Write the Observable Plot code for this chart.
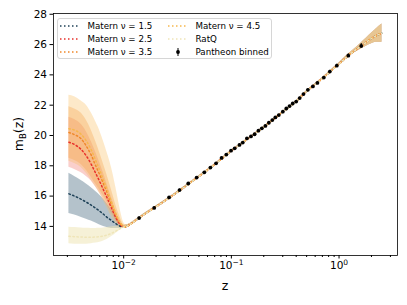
<!DOCTYPE html>
<html><head><meta charset="utf-8">
<script src="https://cdn.jsdelivr.net/npm/d3@7"></script>
<script src="https://cdn.jsdelivr.net/npm/@observablehq/plot@0.6"></script>
<style>
body{margin:0;background:#fff;}
#wrap{position:relative;width:407px;height:305px;font-family:"DejaVu Sans",sans-serif;}
#legend{position:absolute;left:57px;top:18px;width:215px;height:41px;border:1px solid #d6d6d6;border-radius:3px;background:rgba(255,255,255,0.8);box-sizing:border-box;}
</style></head><body><div id="wrap"></div>
<script>
// ---- data ----
const zLow = [0.0031, 0.0035, 0.004, 0.0045, 0.005, 0.0055, 0.006, 0.0065, 0.007, 0.0075, 0.008, 0.0085, 0.009, 0.0095, 0.010];

const m15  = [16.15, 16.0, 15.8, 15.6, 15.4, 15.2, 15.0, 14.8, 14.6, 14.45, 14.3, 14.17, 14.06, 13.98, 13.95];
const lo15 = [14.85, 14.75, 14.6, 14.48, 14.35, 14.22, 14.1, 14.0, 13.93, 13.88, 13.86, 13.86, 13.87, 13.88, 13.9];
const hi15 = [17.5, 17.3, 17.05, 16.8, 16.55, 16.3, 16.05, 15.8, 15.5, 15.2, 14.9, 14.6, 14.35, 14.12, 14.0];

const m25  = [19.55, 19.4, 19.1, 18.65, 18.1, 17.5, 16.95, 16.4, 15.9, 15.4, 14.95, 14.55, 14.25, 14.05, 13.97];
const lo25 = [17.9, 17.75, 17.55, 17.3, 17.0, 16.6, 16.2, 15.8, 15.45, 15.05, 14.7, 14.35, 14.1, 13.95, 13.9];
const hi25 = [21.2, 21.05, 20.75, 20.25, 19.6, 18.9, 18.2, 17.5, 16.8, 16.15, 15.55, 15.0, 14.55, 14.22, 14.05];

const m35  = [20.2, 20.05, 19.8, 19.3, 18.7, 18.0, 17.4, 16.8, 16.25, 15.65, 15.15, 14.7, 14.35, 14.12, 14.0];
const lo35 = [18.5, 18.35, 18.1, 17.7, 17.25, 16.8, 16.4, 16.0, 15.6, 15.2, 14.85, 14.5, 14.2, 14.0, 13.92];
const hi35 = [21.9, 21.75, 21.5, 21.0, 20.35, 19.6, 18.85, 18.1, 17.4, 16.7, 16.0, 15.35, 14.85, 14.4, 14.12];

const m45  = [20.45, 20.35, 20.1, 19.65, 19.05, 18.35, 17.7, 17.05, 16.45, 15.85, 15.3, 14.8, 14.42, 14.15, 14.0];
const lo45 = [18.3, 18.15, 17.9, 17.5, 17.05, 16.6, 16.15, 15.7, 15.25, 14.8, 14.45, 14.15, 13.95, 13.88, 13.88];
const hi45 = [22.65, 22.55, 22.3, 22.0, 21.5, 20.9, 20.3, 19.6, 18.9, 18.2, 17.4, 16.5, 15.6, 14.8, 14.25];

const mRQ  = [13.35, 13.32, 13.3, 13.29, 13.29, 13.3, 13.33, 13.37, 13.43, 13.5, 13.6, 13.7, 13.8, 13.9, 13.95];
const loRQ = [12.85, 12.83, 12.82, 12.83, 12.86, 12.9, 12.96, 13.04, 13.14, 13.26, 13.4, 13.55, 13.68, 13.82, 13.9];
const hiRQ = [13.95, 13.92, 13.9, 13.88, 13.87, 13.87, 13.88, 13.9, 13.93, 13.96, 14.0, 14.0, 14.0, 14.0, 14.0];

// shared reconstruction above z ~ 0.01
const zHigh  = [0.0105, 0.011, 0.012, 0.013, 0.015, 0.02, 0.03, 0.05, 0.07, 0.1, 0.15, 0.2, 0.3, 0.4, 0.5, 0.6, 0.7, 0.8, 0.9, 1.0, 1.2, 1.4, 1.6, 1.8, 2.0, 2.2, 2.5];
const mHigh  = [13.98, 14.05, 14.22, 14.40, 14.72, 15.30, 16.15, 17.30, 18.08, 18.98, 19.90, 20.56, 21.55, 22.25, 22.92, 23.38, 23.76, 24.12, 24.45, 24.72, 25.23, 25.60, 25.90, 26.17, 26.40, 26.58, 26.75];
const hwHigh = [0.12, 0.08, 0.06, 0.05, 0.05, 0.05, 0.04, 0.04, 0.04, 0.04, 0.04, 0.04, 0.04, 0.04, 0.04, 0.04, 0.05, 0.05, 0.05, 0.06, 0.09, 0.13, 0.19, 0.26, 0.34, 0.43, 0.6];

// Pantheon binned
const zBin = [0.0139, 0.0192, 0.0264, 0.0330, 0.0398, 0.0476, 0.0561, 0.0639, 0.0721, 0.0811, 0.0898, 0.0993, 0.1074, 0.1189, 0.1276, 0.1395, 0.1520, 0.1644, 0.1783, 0.1919, 0.2070, 0.2230, 0.2401, 0.2561, 0.2758, 0.3006, 0.3237, 0.3470, 0.3714, 0.4000, 0.4310, 0.4675, 0.5135, 0.5715, 0.6299, 0.7220, 0.8209, 0.9528, 1.219, 1.607];
const mBin = [14.55, 15.22, 15.91, 16.40, 16.83, 17.22, 17.57, 17.88, 18.16, 18.52, 18.74, 19.00, 19.15, 19.38, 19.53, 19.81, 19.94, 20.08, 20.32, 20.47, 20.63, 20.84, 21.02, 21.19, 21.35, 21.57, 21.78, 21.94, 22.11, 22.24, 22.47, 22.73, 23.01, 23.24, 23.47, 23.82, 24.22, 24.61, 25.27, 25.91];
const eBin = [0.08, 0.07, 0.06, 0.06, 0.05, 0.05, 0.05, 0.05, 0.05, 0.05, 0.05, 0.04, 0.04, 0.04, 0.04, 0.04, 0.04, 0.04, 0.04, 0.04, 0.04, 0.04, 0.04, 0.04, 0.04, 0.04, 0.04, 0.04, 0.05, 0.05, 0.05, 0.05, 0.06, 0.06, 0.06, 0.07, 0.08, 0.09, 0.12, 0.16];

const xMajor = [0.01, 0.1, 1];
const xMajorBase = ["10", "10", "10"];
const xMajorExp = ["−2", "−1", "0"];
const xMinor = [0.003, 0.004, 0.005, 0.006, 0.007, 0.008, 0.009, 0.02, 0.03, 0.04, 0.05, 0.06, 0.07, 0.08, 0.09, 0.2, 0.3, 0.4, 0.5, 0.6, 0.7, 0.8, 0.9, 2, 3];
const yTicks = [14, 16, 18, 20, 22, 24, 26, 28];

const kernelNames = ["Matern ν = 1.5", "Matern ν = 2.5", "Matern ν = 3.5", "Matern ν = 4.5", "RatQ"];
const lineColors = ["#1f4258", "#e8312b", "#f0882a", "#f6b84e", "#efe5b8"];
const fillColors = ["#3b5f77", "#ee5f55", "#f3963c", "#f9bb5c", "#eee3b0"];
const fillOpac = [0.38, 0.3, 0.33, 0.33, 0.5];
const means = [m15, m25, m35, m45, mRQ];
const lows = [lo15, lo25, lo35, lo45, loRQ];
const highs = [hi15, hi25, hi35, hi45, hiRQ];

// ---- build tables ----
const kernels = kernelNames.map((name, k) =>
  zLow.map((z, i) => ({z, m: means[k][i], lo: lows[k][i], hi: highs[k][i]}))
    .concat(zHigh.map((z, i) => ({z, m: mHigh[i], lo: mHigh[i] - hwHigh[i], hi: mHigh[i] + hwHigh[i]})))
);
const pantheon = zBin.map((z, i) => ({z, m: mBin[i], e: eBin[i]}));

const marks = [];
kernels.forEach((rows, k) => {
  marks.push(Plot.areaY(rows, {x: "z", y1: "lo", y2: "hi", fill: fillColors[k], fillOpacity: fillOpac[k], curve: "monotone-x"}));
});
kernels.forEach((rows, k) => {
  marks.push(Plot.line(rows, {x: "z", y: "m", stroke: lineColors[k], strokeWidth: 1.5, strokeDasharray: "1.5,2.5", curve: "monotone-x"}));
});
marks.push(Plot.ruleX(pantheon, {x: "z", y1: d => d.m - d.e, y2: d => d.m + d.e, stroke: "black", strokeWidth: 1}));
marks.push(Plot.dot(pantheon, {x: "z", y: "m", r: 1.9, fill: "black"}));
marks.push(Plot.axisY({ticks: yTicks, tickSize: 3.5, tickPadding: 3, fontSize: 10.5, label: null, tickFormat: d => String(d)}));
marks.push(Plot.axisX({ticks: xMinor, tickSize: 2, tickFormat: () => "", label: null}));
marks.push(Plot.axisX({ticks: xMajor, tickSize: 3.5, tickPadding: 3, fontSize: 10.5, label: null,
  tickFormat: d => "T" + xMajor.indexOf(d)}));
marks.push(Plot.frame({stroke: "black", strokeWidth: 0.8}));

const chart = Plot.plot({
  width: 407, height: 305,
  marginLeft: 53, marginRight: 10, marginTop: 13, marginBottom: 50,
  style: {fontFamily: "DejaVu Sans", background: "white", color: "black"},
  x: {type: "log", domain: [0.00223, 3.49]},
  y: {domain: [12.08, 28.05]},
  marks
});
const wrap = document.getElementById("wrap");
wrap.appendChild(chart);

const svg = d3.select(chart);
// mathtext-like superscripts for the x tick labels
svg.selectAll("text").each(function() {
  const t = this.textContent;
  const m = /^T(\d)$/.exec(t);
  if (!m) return;
  const i = +m[1];
  const el = d3.select(this);
  el.text(null);
  el.append("tspan").text(xMajorBase[i]);
  el.append("tspan").attr("font-size", 7.5).attr("dy", -4.5).text(xMajorExp[i]);
});
const yl = svg.append("text").attr("transform", "translate(23,134) rotate(-90)")
  .attr("text-anchor", "middle").attr("font-size", 12.5).attr("fill", "black");
yl.append("tspan").text("m");
yl.append("tspan").attr("font-size", 8.5).attr("dy", 3).text("B");
yl.append("tspan").attr("dy", -3).text("(z)");
svg.append("text").attr("x", 225).attr("y", 290).attr("text-anchor", "middle")
  .attr("font-size", 12.5).attr("fill", "black").text("z");

// ---- legend ----
const legendItems = kernelNames.map((n, k) => ({label: n, color: lineColors[k], type: "line"}))
  .concat([{label: "Pantheon binned", type: "point"}]);
const leg = d3.select(wrap).append("div").attr("id", "legend");
const lsvg = leg.append("svg").attr("width", 213).attr("height", 39).style("position", "absolute").style("left", "0").style("top", "0");
legendItems.forEach((it, i) => {
  const col = Math.floor(i / 3), row = i % 3;
  const x0 = col === 0 ? 2 : 110, y0 = 7 + row * 13;
  const g = lsvg.append("g");
  if (it.type === "line") {
    g.append("line").attr("x1", x0).attr("x2", x0 + 20).attr("y1", y0).attr("y2", y0)
      .attr("stroke", it.color).attr("stroke-width", 1.5).attr("stroke-dasharray", "1.5,2.5");
  } else {
    g.append("line").attr("x1", x0 + 10).attr("x2", x0 + 10).attr("y1", y0 - 4).attr("y2", y0 + 4).attr("stroke", "black").attr("stroke-width", 1);
    g.append("circle").attr("cx", x0 + 10).attr("cy", y0).attr("r", 1.9).attr("fill", "black");
  }
  g.append("text").attr("x", x0 + 27.5).attr("y", y0).attr("dy", "0.35em")
    .attr("font-size", 8.7).attr("font-family", "DejaVu Sans").attr("fill", "black").text(it.label);
});
</script></body></html>
